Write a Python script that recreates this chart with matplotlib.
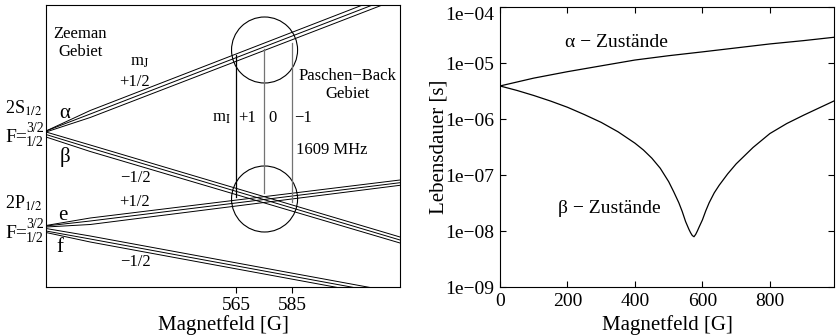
import numpy as np
import matplotlib
matplotlib.use("Agg")
import matplotlib.pyplot as plt
from matplotlib.patches import Ellipse
from matplotlib.ticker import FixedLocator, FuncFormatter, NullLocator

plt.rcParams['font.family'] = ['Liberation Serif', 'DejaVu Serif']
plt.rcParams['mathtext.fontset'] = 'stix'
plt.rcParams['axes.linewidth'] = 0.8

### left panel: schematic Breit-Rabi diagram (x in G, y in arbitrary energy units)
xlev = [497.1, 512.9, 623.6]   # left edge, knee, right edge
alpha_levels = [[156, 176.5, 296.5], [156, 173, 292.6], [155, 169.5, 288.8]]
beta_levels = [[155, 142, 50], [152.5, 139, 47], [150, 135.5, 44]]
e_levels = [[61.5, 69, 107], [61, 66, 104.3], [60, 62.5, 101.7]]
f_levels = [[58.5, 51, -6], [56, 48, -9], [54.5, 45, -12]]

vline_x = [565, 575, 585]
vline_bottom = [90, 94, 85]
vline_top = [232, 238, 244]
vline_col = ['black', '0.45', '0.45']

circle_x = 575.2
circle_y = [237, 88]
circle_rx = 11.8
circle_ry = 33

# labels inside the left panel: (x, y, text, size, ha)
left_texts = [
    (509.3, 244, "Zeeman\nGebiet", 12, 'center'),
    (530.7, 225, r"m$_\mathrm{J}$", 12, 'center'),
    (528.9, 205, "+1/2", 12, 'center'),
    (503.9, 174, "α", 15, 'center'),
    (503.9, 130, "β", 15, 'center'),
    (528.9, 109, "−1/2", 12, 'center'),
    (528.9, 85, "+1/2", 12, 'center'),
    (503.2, 72, "e", 15, 'center'),
    (502.1, 39, "f", 15, 'center'),
    (528.9, 25, "−1/2", 12, 'center'),
    (605.0, 202, "Paschen−Back\nGebiet", 12, 'center'),
    (563.2, 169, r"m$_\mathrm{I}$", 12, 'right'),
    (568.9, 169, "+1", 12, 'center'),
    (577.9, 169, "0", 12, 'center'),
    (589.0, 169, "−1", 12, 'center'),
    (599.3, 137, "1609 MHz", 12, 'center'),
]

### right panel: lifetimes
b_alpha = [0, 100, 200, 300, 400, 500, 600, 700, 800, 900, 990]
tau_alpha = [3.89e-6, 5.37e-6, 7.0e-6, 8.9e-6, 1.13e-5, 1.35e-5, 1.58e-5,
             1.86e-5, 2.19e-5, 2.51e-5, 2.88e-5]

b_beta = [0, 50, 100, 150, 200, 250, 300, 350, 400, 425, 450, 475, 500, 515,
          530, 540, 550, 560, 565, 570, 575, 580, 585, 590, 600, 610, 620,
          635, 650, 675, 700, 750, 800, 850, 900, 950, 990]
tau_beta = [3.89e-6, 3.24e-6, 2.63e-6, 2.09e-6, 1.62e-6, 1.20e-6, 8.7e-7,
            5.9e-7, 3.7e-7, 2.8e-7, 2.0e-7, 1.32e-7, 7.6e-8, 5.0e-8, 3.2e-8,
            2.24e-8, 1.48e-8, 1.07e-8, 9.3e-9, 8.3e-9, 7.9e-9, 8.7e-9, 1.0e-8,
            1.17e-8, 1.58e-8, 2.3e-8, 3.2e-8, 4.8e-8, 6.6e-8, 1.05e-7, 1.58e-7,
            3.1e-7, 5.5e-7, 8.3e-7, 1.17e-6, 1.62e-6, 2.1e-6]

fig = plt.figure(figsize=(8.37, 3.36), dpi=100)

ax1 = fig.add_axes([46/837, 49/336, 354/837, 282/336])
for group in (alpha_levels, beta_levels, e_levels, f_levels):
    for lev in group:
        ax1.plot(xlev, lev, color='black', lw=0.7)
for x, y0, y1, c in zip(vline_x, vline_bottom, vline_top, vline_col):
    ax1.plot([x, x], [y0, y1], color=c, lw=0.9)
for cy in circle_y:
    ax1.add_patch(Ellipse((circle_x, cy), 2*circle_rx, 2*circle_ry,
                          fill=False, ec='black', lw=0.8))
for x, y, s, fs, ha in left_texts:
    ax1.text(x, y, s, fontsize=fs, ha=ha, va='center', linespacing=1.1)

ax1.set_xlim(xlev[0], xlev[-1])
ax1.set_ylim(0, 282)
ax1.xaxis.set_major_locator(FixedLocator([565, 585]))
ax1.set_yticks([])
ax1.tick_params(axis='x', direction='out', length=4, width=0.8,
                labelsize=14, pad=3)
ax1.set_xlabel("Magnetfeld [G]", fontsize=15)
ax1.xaxis.set_label_coords(0.5, -0.1)

# state labels left of the diagram
def tf(px, py):
    return px / 837, 1 - py / 336

for py, name in ((108, r"2S$_{1/2}$"), (203, r"2P$_{1/2}$")):
    fig.text(*tf(24, py), name, fontsize=13, ha='center', va='center')
for py in (137, 233):
    fig.text(*tf(16, py), "F=", fontsize=14, ha='center', va='center')
    fig.text(*tf(35, py - 9), "3/2", fontsize=10, ha='center', va='center')
    fig.text(*tf(35, py + 5), "1/2", fontsize=10, ha='center', va='center')

ax2 = fig.add_axes([500/837, 49/336, 334/837, 280/336])
ax2.semilogy(b_alpha, tau_alpha, color='black', lw=0.9)
ax2.semilogy(b_beta, tau_beta, color='black', lw=0.9)
ax2.set_xlim(0, 990)
ax2.set_ylim(1e-9, 1e-4)
ax2.set_xticks([0, 200, 400, 600, 800])
ax2.yaxis.set_major_locator(FixedLocator([1e-9, 1e-8, 1e-7, 1e-6, 1e-5, 1e-4]))
ax2.yaxis.set_minor_locator(NullLocator())
ax2.yaxis.set_major_formatter(FuncFormatter(
    lambda v, p: "1e−%02d" % int(round(-np.log10(v)))))
ax2.tick_params(direction='in', length=4, width=0.8, labelsize=14,
                top=True, right=True, pad=4)
ax2.yaxis.get_major_ticks()[-1].label1.set_va('top')
ax2.text(192, 2.28e-5, "α − Zustände", fontsize=14, ha='left', va='center')
ax2.text(172, 2.57e-8, "β − Zustände", fontsize=14, ha='left', va='center')
ax2.set_xlabel("Magnetfeld [G]", fontsize=15)
ax2.xaxis.set_label_coords(0.5, -0.1)
ax2.set_ylabel("Lebensdauer [s]", fontsize=15)
ax2.yaxis.set_label_coords(-0.155, 0.5)

fig.savefig("out.png", dpi=100)
